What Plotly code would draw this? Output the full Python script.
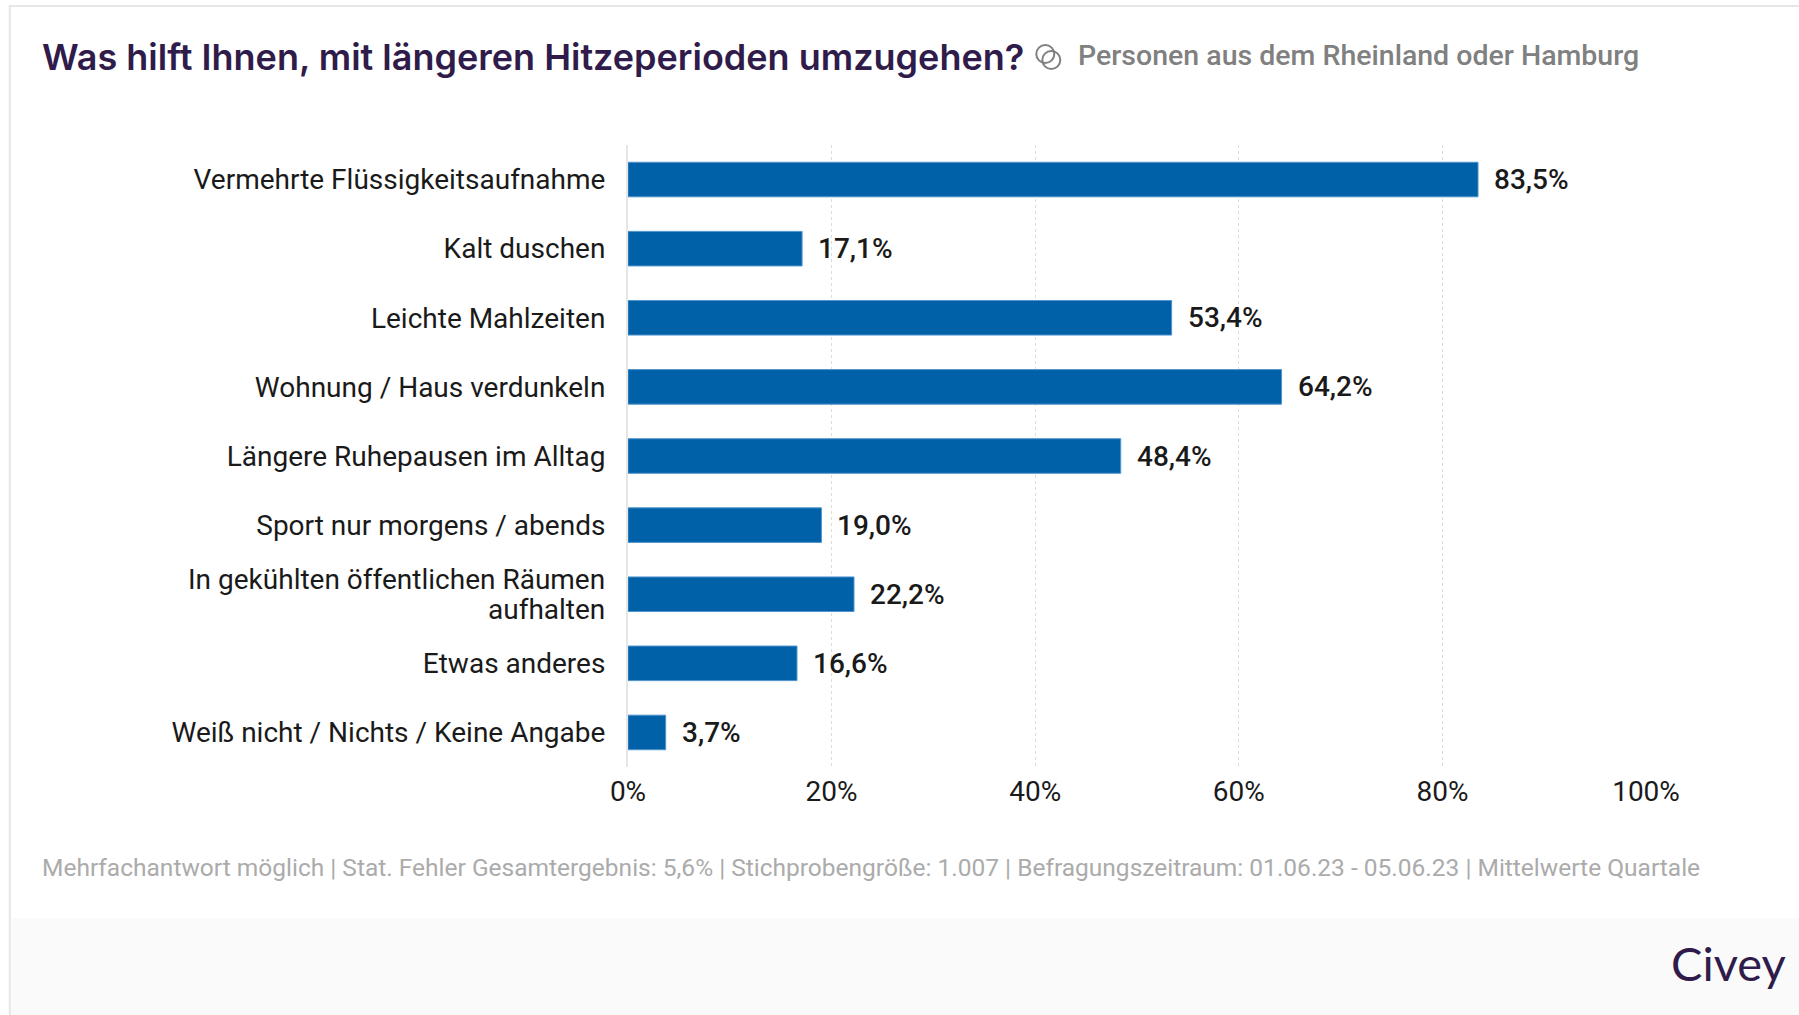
import plotly.graph_objects as go

W, H = 1799, 1015
L, R, T, B = 627.5, 1646, 145, 767

categories = [
    "Vermehrte Flüssigkeitsaufnahme", "Kalt duschen", "Leichte Mahlzeiten",
    "Wohnung / Haus verdunkeln", "Längere Ruhepausen im Alltag",
    "Sport nur morgens / abends",
    "In gekühlten öffentlichen Räumen aufhalten",
    "Etwas anderes", "Weiß nicht / Nichts / Keine Angabe",
]
wrapped_category = "In gekühlten öffentlichen Räumen aufhalten"
wrapped_lines = ["In gekühlten öffentlichen Räumen", "aufhalten"]
values = [83.5, 17.1, 53.4, 64.2, 48.4, 19.0, 22.2, 16.6, 3.7]
value_labels = ["83,5%", "17,1%", "53,4%", "64,2%", "48,4%", "19,0%", "22,2%", "16,6%", "3,7%"]
x_ticks = [0, 20, 40, 60, 80, 100]
x_tick_labels = ["0%", "20%", "40%", "60%", "80%", "100%"]

title = "Was hilft Ihnen, mit längeren Hitzeperioden umzugehen?"
subtitle = "Personen aus dem Rheinland oder Hamburg"
footnote = ("Mehrfachantwort möglich | Stat. Fehler Gesamtergebnis: 5,6% | Stichprobengröße: 1.007 | "
            "Befragungszeitraum: 01.06.23 - 05.06.23 | Mittelwerte Quartale")
brand = "Civey"


def px(x):
    return (x - L) / (R - L)


def py(y):
    return (B - y) / (B - T)


def text_at(x, y, s, size, color, family, anchor="left", weight=400):
    return dict(x=px(x), y=py(y), xref="paper", yref="paper", text=s, showarrow=False,
                xanchor=anchor, yanchor="middle", align=anchor,
                font=dict(size=size, color=color, family=family, weight=weight))


fig = go.Figure(go.Bar(
    x=values, y=categories, orientation="h", width=0.5,
    marker=dict(color="#0060a8", line=dict(color="#4f94cc", width=1)),
    hoverinfo="skip",
))

annotations = [
    dict(x=v, y=c, xref="x", yref="y", text=t, showarrow=False, xanchor="left", yanchor="middle",
         xshift=14, yshift=0, font=dict(size=28, color="#1a1a1a", family="Roboto", weight=500))
    for v, c, t in zip(values, categories, value_labels)
]
annotations += [
    dict(x=0, y=wrapped_category, xref="x", yref="y", text=line, showarrow=False, xanchor="right",
         yanchor="middle", xshift=-21, yshift=s, align="right",
         font=dict(size=28, color="#1a1a1a", family="Roboto"))
    for line, s in zip(wrapped_lines, [15, -15])
]
annotations += [
    text_at(39, 57, title, 36, "#2f1c4a", "Inter", weight=600),
    text_at(1076, 56, subtitle, 28.5, "#808080", "Roboto", weight=500),
    text_at(39, 867.5, footnote, 24.5, "#ababab", "Roboto"),
    text_at(1788, 963, brand, 47, "#2f1c4a", "Lato", anchor="right"),
]

shapes = [
    dict(type="rect", xref="paper", yref="paper", x0=px(9), x1=px(W), y0=py(5), y1=py(H),
         fillcolor="white", line=dict(width=0), layer="below"),
    dict(type="rect", xref="paper", yref="paper", x0=px(10), x1=px(W), y0=py(918), y1=py(H),
         fillcolor="#fafafa", line=dict(width=0), layer="below"),
    dict(type="line", xref="paper", yref="paper", x0=px(8), x1=px(W), y0=py(6), y1=py(6),
         line=dict(color="#e6e6e6", width=2), layer="below"),
    dict(type="line", xref="paper", yref="paper", x0=px(9), x1=px(9), y0=py(6), y1=py(H),
         line=dict(color="#e6e6e6", width=2), layer="below"),
    dict(type="circle", xref="paper", yref="paper", x0=px(1036), x1=px(1054), y0=py(45), y1=py(63),
         line=dict(color="#808080", width=2)),
    dict(type="circle", xref="paper", yref="paper", x0=px(1042), x1=px(1060), y0=py(51), y1=py(69),
         line=dict(color="#808080", width=2)),
]

fig.update_layout(
    width=W, height=H, autosize=False,
    margin=dict(l=L, r=W - R, t=T, b=H - B, pad=0),
    paper_bgcolor="white", plot_bgcolor="white",
    showlegend=False, annotations=annotations, shapes=shapes,
    font=dict(family="Roboto", color="#1a1a1a"),
    xaxis=dict(range=[0, 100], tickvals=x_ticks, ticktext=x_tick_labels, showgrid=True,
               gridcolor="#dcdcdc", griddash="dot", gridwidth=1, zeroline=False,
               showline=False, ticks="", ticklabelstandoff=5,
               tickfont=dict(size=28, color="#1a1a1a", family="Roboto")),
    yaxis=dict(categoryorder="array", categoryarray=categories, autorange="reversed",
               tickmode="array", tickvals=categories,
               ticktext=[" " if c == wrapped_category else c for c in categories],
               showgrid=False, zeroline=False, showline=True, linecolor="#e6e6e6", linewidth=2,
               ticks="outside", ticklen=15, tickcolor="rgba(0,0,0,0)",
               tickfont=dict(size=28, color="#1a1a1a", family="Roboto")),
)

fig.write_html("out.html", config={"displayModeBar": False},
               post_script="document.body.style.margin='0';document.body.style.overflow='hidden';")
